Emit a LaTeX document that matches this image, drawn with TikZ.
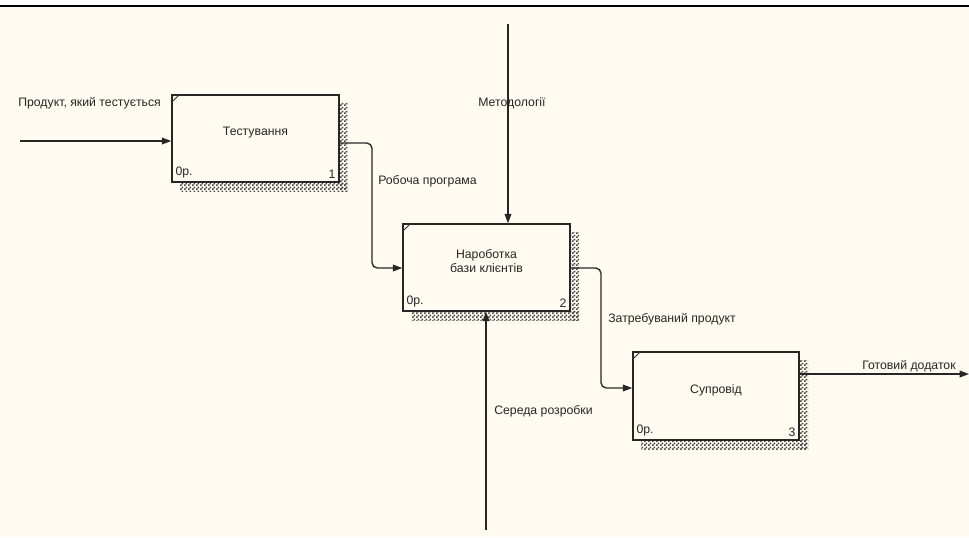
\documentclass[tikz,border=0pt]{standalone}
\usepackage{fontspec}
\setmainfont{Liberation Sans}
\usetikzlibrary{arrows.meta,patterns,fit}
\definecolor{bgc}{RGB}{255,251,240}
\definecolor{shade}{RGB}{70,70,70}
\pgfdeclarepatternformonly{finecheck}{\pgfpointorigin}{\pgfqpoint{3pt}{3pt}}{\pgfqpoint{3pt}{3pt}}{%
  \pgfpathrectangle{\pgfpointorigin}{\pgfqpoint{1.5pt}{1.5pt}}%
  \pgfpathrectangle{\pgfqpoint{1.5pt}{1.5pt}}{\pgfqpoint{1.5pt}{1.5pt}}%
  \pgfusepath{fill}}
\tikzset{
  lbl/.style={font=\fontsize{9.2pt}{10.5pt}\selectfont, inner sep=0pt, text=black!85},
  box/.style={draw=black!85, line width=1.1pt, fill=bgc},
  conn/.style={draw=black!85, line width=1pt, rounded corners=4pt, -{Triangle[length=7pt,width=5pt]}},
  shadowfill/.style={pattern=finecheck, pattern color=shade, draw=none}
}
\newcommand{\idefbox}[7]{% name, x1, y1, x2, y2, text, number
  \fill[shadowfill] (#4,#3+8) rectangle (#4+9,#5+9);
  \fill[shadowfill] (#2+8,#5) rectangle (#4+9,#5+9);
  \node[box, fit={(#2,#3) (#4,#5)}, inner sep=0pt] (#1) {};
  \draw[line width=0.6pt, black!80] (#2,#3+7) -- (#2+7,#3);
  \node[lbl, align=center] at ([yshift=4.5pt]#1.center) {#6};
  \node[lbl, anchor=south west] at ([xshift=3pt,yshift=3pt]#1.south west) {0р.};
  \node[lbl, anchor=south east] at ([xshift=-3pt,yshift=3pt]#1.south east) {#7};
}
\begin{document}
\begin{tikzpicture}[x=0.75pt,y=-0.75pt]
  \fill[white] (0,0) rectangle (969,537);
  \fill[bgc] (0,7) rectangle (969,537);
  \useasboundingbox (0,0) rectangle (969,537);
  \draw[line width=1.6pt, black] (0,6) -- (969,6);

  \idefbox{b1}{172}{95}{339}{182}{Тестування}{1}
  \idefbox{b2}{403}{224}{570}{311}{Нароботка\\[0pt]бази клієнтів}{2}
  \idefbox{b3}{633}{352}{799}{440}{Супровід}{3}

  % free ends
  \coordinate (inL) at (20,141);
  \coordinate (mtop) at (508,24);
  \coordinate (sbot) at (486,530);
  \coordinate (outR) at (969,374);

  % input
  \draw[conn] (inL) -- (inL -| b1.west);
  \node[lbl, anchor=west] (tin) at (18,103) {Продукт, який тестується};

  % b1 -> b2
  \draw[conn] (b1.east |- 0,143) -- (372,143) -- (372,268) -- (b2.west |- 0,268);
  \node[lbl, anchor=west] (trp) at (378,181) {Робоча програма};

  % control
  \draw[conn] (mtop) -- (mtop |- b2.north);
  \node[lbl, anchor=center] (tm) at (512,103) {Методології};

  % mechanism
  \draw[conn] (sbot) -- (sbot |- b2.south);
  \node[lbl, anchor=west] (ts) at (494,411) {Середа розробки};

  % b2 -> b3
  \draw[conn] (b2.east |- 0,268) -- (601,268) -- (601,388) -- (b3.west |- 0,388);
  \node[lbl, anchor=west] (tz) at (608,319) {Затребуваний продукт};

  % output
  \draw[conn] (b3.east |- outR) -- (outR);
  \node[lbl, anchor=west] (to) at (862,366) {Готовий додаток};
\end{tikzpicture}
\end{document}
